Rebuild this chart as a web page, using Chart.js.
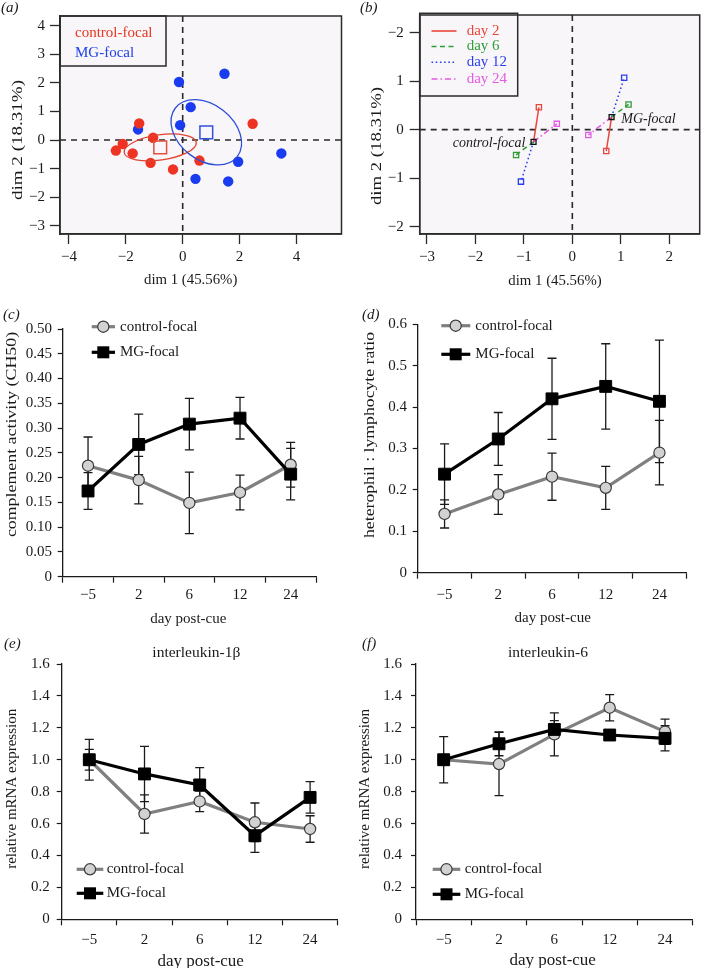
<!DOCTYPE html>
<html><head><meta charset="utf-8">
<script src="https://cdn.jsdelivr.net/npm/chart.js@4.4.1/dist/chart.umd.min.js"></script>
<style>
html,body{margin:0;padding:0;background:#fff;}
body{width:705px;height:968px;position:relative;overflow:hidden;}
.p{position:absolute;}
.p canvas{display:block;}
</style></head><body>
<div class="p" style="left:0;top:0;width:352px;height:300px"><canvas id="ca"></canvas></div>
<div class="p" style="left:352px;top:0;width:353px;height:300px"><canvas id="cb"></canvas></div>
<div class="p" style="left:0;top:300px;width:352px;height:330px"><canvas id="cc"></canvas></div>
<div class="p" style="left:352px;top:300px;width:353px;height:330px"><canvas id="cd"></canvas></div>
<div class="p" style="left:0;top:630px;width:352px;height:338px"><canvas id="ce"></canvas></div>
<div class="p" style="left:352px;top:630px;width:353px;height:338px"><canvas id="cf"></canvas></div>
<script>
// ================= DATA =================
// Panel (a): individual scores
const A_CTRL_X = [-1.53, -1.04, -2.11, -2.35, -1.76, -1.13, -0.34, 0.59, 2.46];
const A_CTRL_Y = [0.58, 0.08, -0.14, -0.37, -0.47, -0.80, -1.03, -0.72, 0.57];
const A_MG_X = [-0.13, 1.47, 0.28, -0.09, -1.57, 3.47, 1.95, 0.45, 1.60];
const A_MG_Y = [2.03, 2.32, 1.15, 0.52, 0.37, -0.47, -0.76, -1.36, -1.45];
const A_GROUPS = ['control-focal', 'MG-focal'];
const A_CENTER_X = [-0.79, 0.83];
const A_CENTER_Y = [-0.26, 0.27];
const A_ELLIPSE_A = [1.28, 1.38];
const A_ELLIPSE_B = [0.44, 0.97];
const A_ELLIPSE_ANGLE = [8, -38];
const A_X_TICKS = [-4, -2, 0, 2, 4];
const A_X_LABELS = ['\u22124', '\u22122', '0', '2', '4'];
const A_Y_TICKS = [-3, -2, -1, 0, 1, 2, 3, 4];
const A_Y_LABELS = ['\u22123', '\u22122', '\u22121', '0', '1', '2', '3', '4'];

// Panel (b): group centres and per-day positions
const B_DAYS = ['day 2', 'day 6', 'day 12', 'day 24'];
const B_CTRL_CENTER = [-0.80, -0.25];
const B_MG_CENTER = [0.81, 0.26];
const B_CTRL_DAY_X = [-0.69, -1.16, -1.06, -0.32];
const B_CTRL_DAY_Y = [0.46, -0.52, -1.07, 0.12];
const B_MG_DAY_X = [0.70, 1.16, 1.07, 0.33];
const B_MG_DAY_Y = [-0.44, 0.52, 1.07, -0.11];
const B_X_TICKS = [-3, -2, -1, 0, 1, 2];
const B_X_LABELS = ['\u22123', '\u22122', '\u22121', '0', '1', '2'];
const B_Y_TICKS = [-2, -1, 0, 1, 2];
const B_Y_LABELS = ['\u22122', '\u22121', '0', '1', '\u22122'];

// Panels (c)-(f)
const DAYS = ['\u22125', '2', '6', '12', '24'];
const C_CTRL = [0.224, 0.195, 0.149, 0.170, 0.226];
const C_CTRL_ERR = [0.058, 0.048, 0.062, 0.035, 0.045];
const C_MG = [0.173, 0.267, 0.308, 0.320, 0.207];
const C_MG_ERR = [0.037, 0.061, 0.052, 0.042, 0.052];
const C_Y_TICKS = [0, 0.05, 0.10, 0.15, 0.20, 0.25, 0.30, 0.35, 0.40, 0.45, 0.50];
const C_Y_LABELS = ['0', '0.05', '0.10', '0.15', '0.20', '0.25', '0.30', '0.35', '0.40', '0.45', '0.50'];

const D_CTRL = [0.142, 0.189, 0.232, 0.205, 0.290];
const D_CTRL_ERR = [0.034, 0.048, 0.057, 0.052, 0.078];
const D_MG = [0.238, 0.323, 0.420, 0.450, 0.414];
const D_MG_ERR = [0.073, 0.064, 0.098, 0.103, 0.148];
const D_Y_TICKS = [0, 0.1, 0.2, 0.3, 0.4, 0.5, 0.6];
const D_Y_LABELS = ['0', '0.1', '0.2', '0.3', '0.4', '0.5', '0.6'];

const E_CTRL = [1.0, 0.66, 0.739, 0.608, 0.566];
const E_CTRL_ERR = [0.065, 0.12, 0.064, 0.121, 0.083];
const E_MG = [1.0, 0.911, 0.842, 0.524, 0.764];
const E_MG_ERR = [0.128, 0.173, 0.108, 0.104, 0.099];

const F_CTRL = [1.0, 0.973, 1.159, 1.326, 1.176];
const F_CTRL_ERR = [0.145, 0.198, 0.135, 0.082, 0.079];
const F_MG = [1.0, 1.10, 1.19, 1.155, 1.134];
const F_MG_ERR = [0.03, 0.075, 0.055, 0.03, 0.079];
const EF_Y_TICKS = [0, 0.2, 0.4, 0.6, 0.8, 1.0, 1.2, 1.4, 1.6];
const EF_Y_LABELS = ['0', '0.2', '0.4', '0.6', '0.8', '1.0', '1.2', '1.4', '1.6'];

// ================= STYLE / HELPERS =================
const SERIF = '"Liberation Serif", "Times New Roman", serif';
Chart.defaults.font.family = SERIF;
Chart.defaults.font.size = 15;
Chart.defaults.color = '#1a1a1a';
Chart.defaults.animation = false;
Chart.defaults.events = [];
Chart.defaults.plugins.legend.display = false;
Chart.defaults.plugins.tooltip.enabled = false;

const RED = '#ee3322', BLUE = '#1a3cf0';
const DAY_COLORS = ['#e8463a', '#2e9e36', '#2b3ff0', '#e45ae4'];
const DAY_DASH = [[], [5, 3.5], [1.6, 2.6], [6, 3, 1.5, 3]];
const GRAY_LINE = '#808080', GRAY_FILL = '#d2d2d2';

function drawTexts(ctx, items) {
  items.forEach(it => {
    ctx.save();
    ctx.font = (it.style || '') + ' ' + (it.size || 15) + 'px ' + SERIF;
    ctx.fillStyle = it.color || '#1a1a1a';
    ctx.textAlign = it.align || 'center';
    ctx.textBaseline = 'middle';
    ctx.translate(it.x, it.y);
    if (it.rot) ctx.rotate(it.rot);
    if (it.sx) ctx.scale(it.sx, 1);
    ctx.fillText(it.text, 0, 0);
    ctx.restore();
  });
}
function textPlugin(items) {
  return { id: 'texts', afterDraw(chart) { drawTexts(chart.ctx, items); } };
}
function tickSetter(values) {
  return s => { s.ticks = values.map(v => ({ value: v })); };
}
function labelFrom(labels) { return (v, i) => labels[i]; }

// box + background + zero lines for PCA panels
function pcaPlugin() {
  return {
    id: 'pca',
    beforeDraw(chart) {
      const { ctx, chartArea: a } = chart;
      ctx.save(); ctx.fillStyle = '#f9f6fa';
      ctx.fillRect(a.left, a.top, a.right - a.left, a.bottom - a.top); ctx.restore();
    },
    beforeDatasetsDraw(chart) {
      const { ctx, chartArea: a, scales } = chart;
      const x0 = scales.x.getPixelForValue(0), y0 = scales.y.getPixelForValue(0);
      ctx.save(); ctx.strokeStyle = '#2a2a2a'; ctx.lineWidth = 1.6; ctx.setLineDash([6, 5]);
      ctx.beginPath(); ctx.moveTo(x0, a.top); ctx.lineTo(x0, a.bottom);
      ctx.moveTo(a.left, y0); ctx.lineTo(a.right, y0); ctx.stroke(); ctx.restore();
    },
    afterDraw(chart) {
      const { ctx, chartArea: a } = chart;
      ctx.save(); ctx.strokeStyle = '#2a2a2a'; ctx.lineWidth = 1.5;
      ctx.strokeRect(a.left, a.top, a.right - a.left, a.bottom - a.top); ctx.restore();
    }
  };
}
function pcaScales(o) {
  const common = (ticks, labels, pad, size) => ({
    type: 'linear', afterBuildTicks: tickSetter(ticks),
    ticks: { callback: labelFrom(labels), padding: pad, color: '#1a1a1a', font: { size: 15 } },
    grid: { drawOnChartArea: false, drawTicks: true, tickLength: 10, color: '#2a2a2a', tickWidth: 1.3 },
    border: { display: true, color: '#2a2a2a', width: 1.5 },
    afterFit: size
  });
  const x = common(o.xTicks, o.xLabels, o.xPad, s => { s.height = o.XH; });
  x.min = o.xMin; x.max = o.xMax; x.position = 'bottom';
  const y = common(o.yTicks, o.yLabels, o.yPad, s => { s.width = o.YW; });
  y.min = o.yMin; y.max = o.yMax; y.position = 'left';
  return { x, y };
}

// ================= PANEL (a) =================
const ellipsePlugin = {
  id: 'ellipses',
  afterDatasetsDraw(chart) {
    const { ctx, scales } = chart;
    const kx = scales.x.getPixelForValue(1) - scales.x.getPixelForValue(0);
    const ky = scales.y.getPixelForValue(0) - scales.y.getPixelForValue(1);
    const cols = ['#e2422f', '#2d4fd8'];
    for (let i = 0; i < A_CENTER_X.length; i++) {
      ctx.save();
      ctx.translate(scales.x.getPixelForValue(A_CENTER_X[i]), scales.y.getPixelForValue(A_CENTER_Y[i]));
      ctx.scale(kx, -ky);
      ctx.rotate(A_ELLIPSE_ANGLE[i] * Math.PI / 180);
      ctx.beginPath();
      ctx.ellipse(0, 0, A_ELLIPSE_A[i], A_ELLIPSE_B[i], 0, 0, 2 * Math.PI);
      ctx.restore();
      ctx.save(); ctx.strokeStyle = cols[i]; ctx.lineWidth = 1.3; ctx.stroke(); ctx.restore();
    }
  }
};
const legendA = {
  id: 'legA',
  afterDraw(chart) {
    const ctx = chart.ctx;
    ctx.save(); ctx.strokeStyle = '#2a2a2a'; ctx.lineWidth = 1.5;
    ctx.strokeRect(60, 16, 106, 50); ctx.restore();
  }
};
new Chart(document.getElementById('ca'), {
  type: 'scatter',
  data: {
    datasets: [
      { label: A_GROUPS[0], data: A_CTRL_X.map((x, i) => ({ x, y: A_CTRL_Y[i] })), pointRadius: 5.2, pointBackgroundColor: RED, pointBorderWidth: 0, order: 2 },
      { label: A_GROUPS[1], data: A_MG_X.map((x, i) => ({ x, y: A_MG_Y[i] })), pointRadius: 5.2, pointBackgroundColor: BLUE, pointBorderWidth: 0, order: 3 },
      { label: 'control-focal centre', data: [{ x: A_CENTER_X[0], y: A_CENTER_Y[0] }], pointStyle: 'rect', pointRadius: 9, pointBorderColor: '#e0503e', pointBackgroundColor: 'rgba(0,0,0,0)', pointBorderWidth: 1.5, order: 1 },
      { label: 'MG-focal centre', data: [{ x: A_CENTER_X[1], y: A_CENTER_Y[1] }], pointStyle: 'rect', pointRadius: 9, pointBorderColor: '#3050e0', pointBackgroundColor: 'rgba(0,0,0,0)', pointBorderWidth: 1.5, order: 1 }
    ]
  },
  options: {
    responsive: true, maintainAspectRatio: false,
    layout: { padding: { top: 16, right: 9, left: 0, bottom: 0 } },
    scales: pcaScales({ xTicks: A_X_TICKS, xLabels: A_X_LABELS, yTicks: A_Y_TICKS, yLabels: A_Y_LABELS,
      xMin: -4.315, xMax: 5.585, yMin: -3.29, yMax: 4.34, XH: 66, YW: 60, xPad: 4, yPad: 5 })
  },
  plugins: [pcaPlugin(), ellipsePlugin, legendA, textPlugin([
    { text: '(a)', x: 1, y: 8, align: 'left', style: 'italic', size: 15 },
    { text: 'dim 2 (18.31%)', x: 18, y: 140, rot: -Math.PI / 2, sx: 1.27 },
    { text: 'dim 1 (45.56%)', x: 190.7, y: 280, size: 14.8 },
    { text: A_GROUPS[0], x: 75, y: 33, align: 'left', color: '#e8351e' },
    { text: A_GROUPS[1], x: 75, y: 53, align: 'left', color: '#2040e8' }
  ])]
});

// ================= PANEL (b) =================
const bSets = [];
B_DAYS.forEach((d, i) => {
  const base = { showLine: true, borderColor: DAY_COLORS[i], borderWidth: 1.5, borderDash: DAY_DASH[i],
    pointStyle: 'rect', pointRadius: [0, 3.7], pointBorderColor: DAY_COLORS[i],
    pointBackgroundColor: 'rgba(255,255,255,0)', pointBorderWidth: 1.3, order: 2 };
  bSets.push(Object.assign({ label: d + ' control-focal', data: [{ x: B_CTRL_CENTER[0], y: B_CTRL_CENTER[1] }, { x: B_CTRL_DAY_X[i], y: B_CTRL_DAY_Y[i] }] }, base));
  bSets.push(Object.assign({ label: d + ' MG-focal', data: [{ x: B_MG_CENTER[0], y: B_MG_CENTER[1] }, { x: B_MG_DAY_X[i], y: B_MG_DAY_Y[i] }] }, base));
});
bSets.push({ label: 'centres', data: [{ x: B_CTRL_CENTER[0], y: B_CTRL_CENTER[1] }, { x: B_MG_CENTER[0], y: B_MG_CENTER[1] }],
  pointStyle: 'rect', pointRadius: 3.5, pointBorderColor: '#111', pointBackgroundColor: 'rgba(0,0,0,0)', pointBorderWidth: 1.3, order: 1 });
const legendB = {
  id: 'legB',
  afterDraw(chart) {
    const ctx = chart.ctx;
    ctx.save(); ctx.strokeStyle = '#2a2a2a'; ctx.lineWidth = 1.5;
    ctx.strokeRect(67.7, 13.3, 98, 82.7);
    const ys = [31, 46.5, 62.3, 79];
    B_DAYS.forEach((d, i) => {
      ctx.strokeStyle = DAY_COLORS[i]; ctx.lineWidth = 1.6; ctx.setLineDash(DAY_DASH[i]);
      ctx.beginPath(); ctx.moveTo(79.5, ys[i]); ctx.lineTo(104.5, ys[i]); ctx.stroke();
    });
    ctx.setLineDash([]);
    ctx.restore();
    drawTexts(ctx, B_DAYS.map((d, i) => ({ text: d, x: 114.7, y: ys[i], align: 'left', color: DAY_COLORS[i] })));
  }
};
new Chart(document.getElementById('cb'), {
  type: 'scatter',
  data: { datasets: bSets },
  options: {
    responsive: true, maintainAspectRatio: false,
    layout: { padding: { top: 13.3, right: 3, left: 0, bottom: 0 } },
    scales: pcaScales({ xTicks: B_X_TICKS, xLabels: B_X_LABELS, yTicks: B_Y_TICKS, yLabels: B_Y_LABELS,
      xMin: -3.149, xMax: 2.628, yMin: -2.149, yMax: 2.362, XH: 66, YW: 67.7, xPad: 4, yPad: 6 })
  },
  plugins: [pcaPlugin(), legendB, textPlugin([
    { text: '(b)', x: 8, y: 8, align: 'left', style: 'italic', size: 15 },
    { text: 'dim 2 (18.31%)', x: 25, y: 146, rot: -Math.PI / 2, sx: 1.25 },
    { text: 'dim 1 (45.56%)', x: 203, y: 281, size: 14.8 },
    { text: 'control-focal', x: 173.3, y: 143.3, align: 'right', style: 'italic', size: 14 },
    { text: 'MG-focal', x: 269.3, y: 119, align: 'left', style: 'italic', size: 14 }
  ])]
});

// ================= PANELS (c)-(f) =================
function errorPlugin(errs) {
  return {
    id: 'errbars',
    beforeDatasetsDraw(chart) {
      const { ctx, scales } = chart;
      ctx.save(); ctx.strokeStyle = '#1a1a1a'; ctx.lineWidth = 1.3;
      chart.data.datasets.forEach((ds, di) => {
        const meta = chart.getDatasetMeta(di);
        meta.data.forEach((pt, i) => {
          const v = ds.data[i], e = errs[di][i];
          const y1 = scales.y.getPixelForValue(v + e), y0 = scales.y.getPixelForValue(v - e);
          const x = pt.x;
          ctx.beginPath();
          ctx.moveTo(x, y0); ctx.lineTo(x, y1);
          ctx.moveTo(x - 4.5, y0); ctx.lineTo(x + 4.5, y0);
          ctx.moveTo(x - 4.5, y1); ctx.lineTo(x + 4.5, y1);
          ctx.stroke();
        });
      });
      ctx.restore();
    }
  };
}
function seriesLegend(L) {
  return {
    id: 'serLeg',
    afterDraw(chart) {
      const ctx = chart.ctx;
      ctx.save();
      // control-focal row
      ctx.strokeStyle = GRAY_LINE; ctx.lineWidth = 3.2;
      ctx.beginPath(); ctx.moveTo(L.x0, L.y1); ctx.lineTo(L.x1, L.y1); ctx.stroke();
      ctx.beginPath(); ctx.arc(L.xm, L.y1, 5.6, 0, 2 * Math.PI);
      ctx.fillStyle = GRAY_FILL; ctx.fill(); ctx.strokeStyle = '#3a3a3a'; ctx.lineWidth = 1.2; ctx.stroke();
      // MG-focal row
      ctx.strokeStyle = '#000'; ctx.lineWidth = 3.2;
      ctx.beginPath(); ctx.moveTo(L.x0, L.y2); ctx.lineTo(L.x1, L.y2); ctx.stroke();
      ctx.fillStyle = '#000'; ctx.fillRect(L.xm - 6, L.y2 - 6, 12, 12);
      ctx.restore();
      drawTexts(ctx, [
        { text: 'control-focal', x: L.xt, y: L.y1, align: 'left' },
        { text: 'MG-focal', x: L.xt, y: L.y2, align: 'left' }
      ]);
    }
  };
}
function linePanel(o) {
  new Chart(document.getElementById(o.id), {
    type: 'line',
    data: {
      labels: DAYS,
      datasets: [
        { label: 'control-focal', data: o.ctrl, borderColor: GRAY_LINE, borderWidth: 3.2, pointStyle: 'circle', pointRadius: 5.6,
          pointBackgroundColor: GRAY_FILL, pointBorderColor: '#3a3a3a', pointBorderWidth: 1.2, order: 2 },
        { label: 'MG-focal', data: o.mg, borderColor: '#000', borderWidth: 3.2, pointStyle: 'rect', pointRadius: 8.4,
          pointBackgroundColor: '#000', pointBorderColor: '#000', pointBorderWidth: 1, order: 1 }
      ]
    },
    options: {
      responsive: true, maintainAspectRatio: false,
      layout: { padding: { top: o.padTop, right: o.padRight, left: 0, bottom: 0 } },
      scales: {
        x: { type: 'category', offset: true,
          grid: { offset: true, drawOnChartArea: false, drawTicks: true, tickLength: 6, color: '#1a1a1a', tickWidth: 1.2 },
          border: { display: true, color: '#1a1a1a', width: 1.3 },
          ticks: { padding: o.xPad, color: '#1a1a1a', font: { size: 15 } },
          afterFit: s => { s.height = o.XH; } },
        y: { type: 'linear', min: 0, max: o.yMax, afterBuildTicks: tickSetter(o.yTicks),
          grid: { drawOnChartArea: false, drawTicks: true, tickLength: 5, color: '#1a1a1a', tickWidth: 1.2 },
          border: { display: true, color: '#1a1a1a', width: 1.3 },
          ticks: { callback: labelFrom(o.yLabels), padding: o.yPad, color: '#1a1a1a', font: { size: 15 } },
          afterFit: s => { s.width = o.YW; } }
      }
    },
    plugins: [errorPlugin([o.ctrlErr, o.mgErr]), seriesLegend(o.legend), textPlugin(o.texts)]
  });
}
linePanel({ id: 'cc', ctrl: C_CTRL, ctrlErr: C_CTRL_ERR, mg: C_MG, mgErr: C_MG_ERR,
  yTicks: C_Y_TICKS, yLabels: C_Y_LABELS, yMax: 0.5, YW: 62.7, XH: 53.3, padTop: 29, padRight: 36, yPad: 5.7, xPad: 3.3,
  legend: { y1: 26.7, y2: 52.3, x0: 91.7, x1: 115, xm: 103.3, xt: 120 },
  texts: [
    { text: '(c)', x: 3, y: 15, align: 'left', style: 'italic' },
    { text: 'complement activity (CH50)', x: 12.5, y: 134.5, rot: -Math.PI / 2, sx: 1.19 },
    { text: 'day post-cue', x: 188.3, y: 319.3 }
  ] });
linePanel({ id: 'cd', ctrl: D_CTRL, ctrlErr: D_CTRL_ERR, mg: D_MG, mgErr: D_MG_ERR,
  yTicks: D_Y_TICKS, yLabels: D_Y_LABELS, yMax: 0.6, YW: 65.7, XH: 57.3, padTop: 24.3, padRight: 18.7, yPad: 5.7, xPad: 7.3,
  legend: { y1: 25.7, y2: 54.3, x0: 89.3, x1: 118.3, xm: 103.7, xt: 123.3 },
  texts: [
    { text: '(d)', x: 10, y: 15, align: 'left', style: 'italic' },
    { text: 'heterophil : lymphocyte ratio', x: 18, y: 135, rot: -Math.PI / 2, sx: 1.18 },
    { text: 'day post-cue', x: 200.7, y: 318.3 }
  ] });
linePanel({ id: 'ce', ctrl: E_CTRL, ctrlErr: E_CTRL_ERR, mg: E_MG, mgErr: E_MG_ERR,
  yTicks: EF_Y_TICKS, yLabels: EF_Y_LABELS, yMax: 1.6, YW: 61.7, XH: 48.7, padTop: 34, padRight: 14.3, yPad: 7, xPad: 5.7,
  legend: { y1: 239.3, y2: 263.3, x0: 76.7, x1: 103.3, xm: 90, xt: 106.7 },
  texts: [
    { text: '(e)', x: 4, y: 14.5, align: 'left', style: 'italic' },
    { text: 'interleukin-1\u03B2', x: 196.3, y: 23.3, size: 15.5 },
    { text: 'relative mRNA expression', x: 12.5, y: 158.8, rot: -Math.PI / 2 },
    { text: 'day post-cue', x: 200.7, y: 331.5, size: 17 }
  ] });
linePanel({ id: 'cf', ctrl: F_CTRL, ctrlErr: F_CTRL_ERR, mg: F_MG, mgErr: F_MG_ERR,
  yTicks: EF_Y_TICKS, yLabels: EF_Y_LABELS, yMax: 1.6, YW: 64, XH: 48.7, padTop: 34, padRight: 12.3, yPad: 9, xPad: 5.7,
  legend: { y1: 239.3, y2: 264.3, x0: 80.7, x1: 108.3, xm: 94.5, xt: 112.7 },
  texts: [
    { text: '(f)', x: 10, y: 14, align: 'left', style: 'italic' },
    { text: 'interleukin-6', x: 196, y: 23.3, size: 15.5 },
    { text: 'relative mRNA expression', x: 13, y: 159, rot: -Math.PI / 2 },
    { text: 'day post-cue', x: 200.7, y: 331, size: 17 }
  ] });
</script>
</body></html>
